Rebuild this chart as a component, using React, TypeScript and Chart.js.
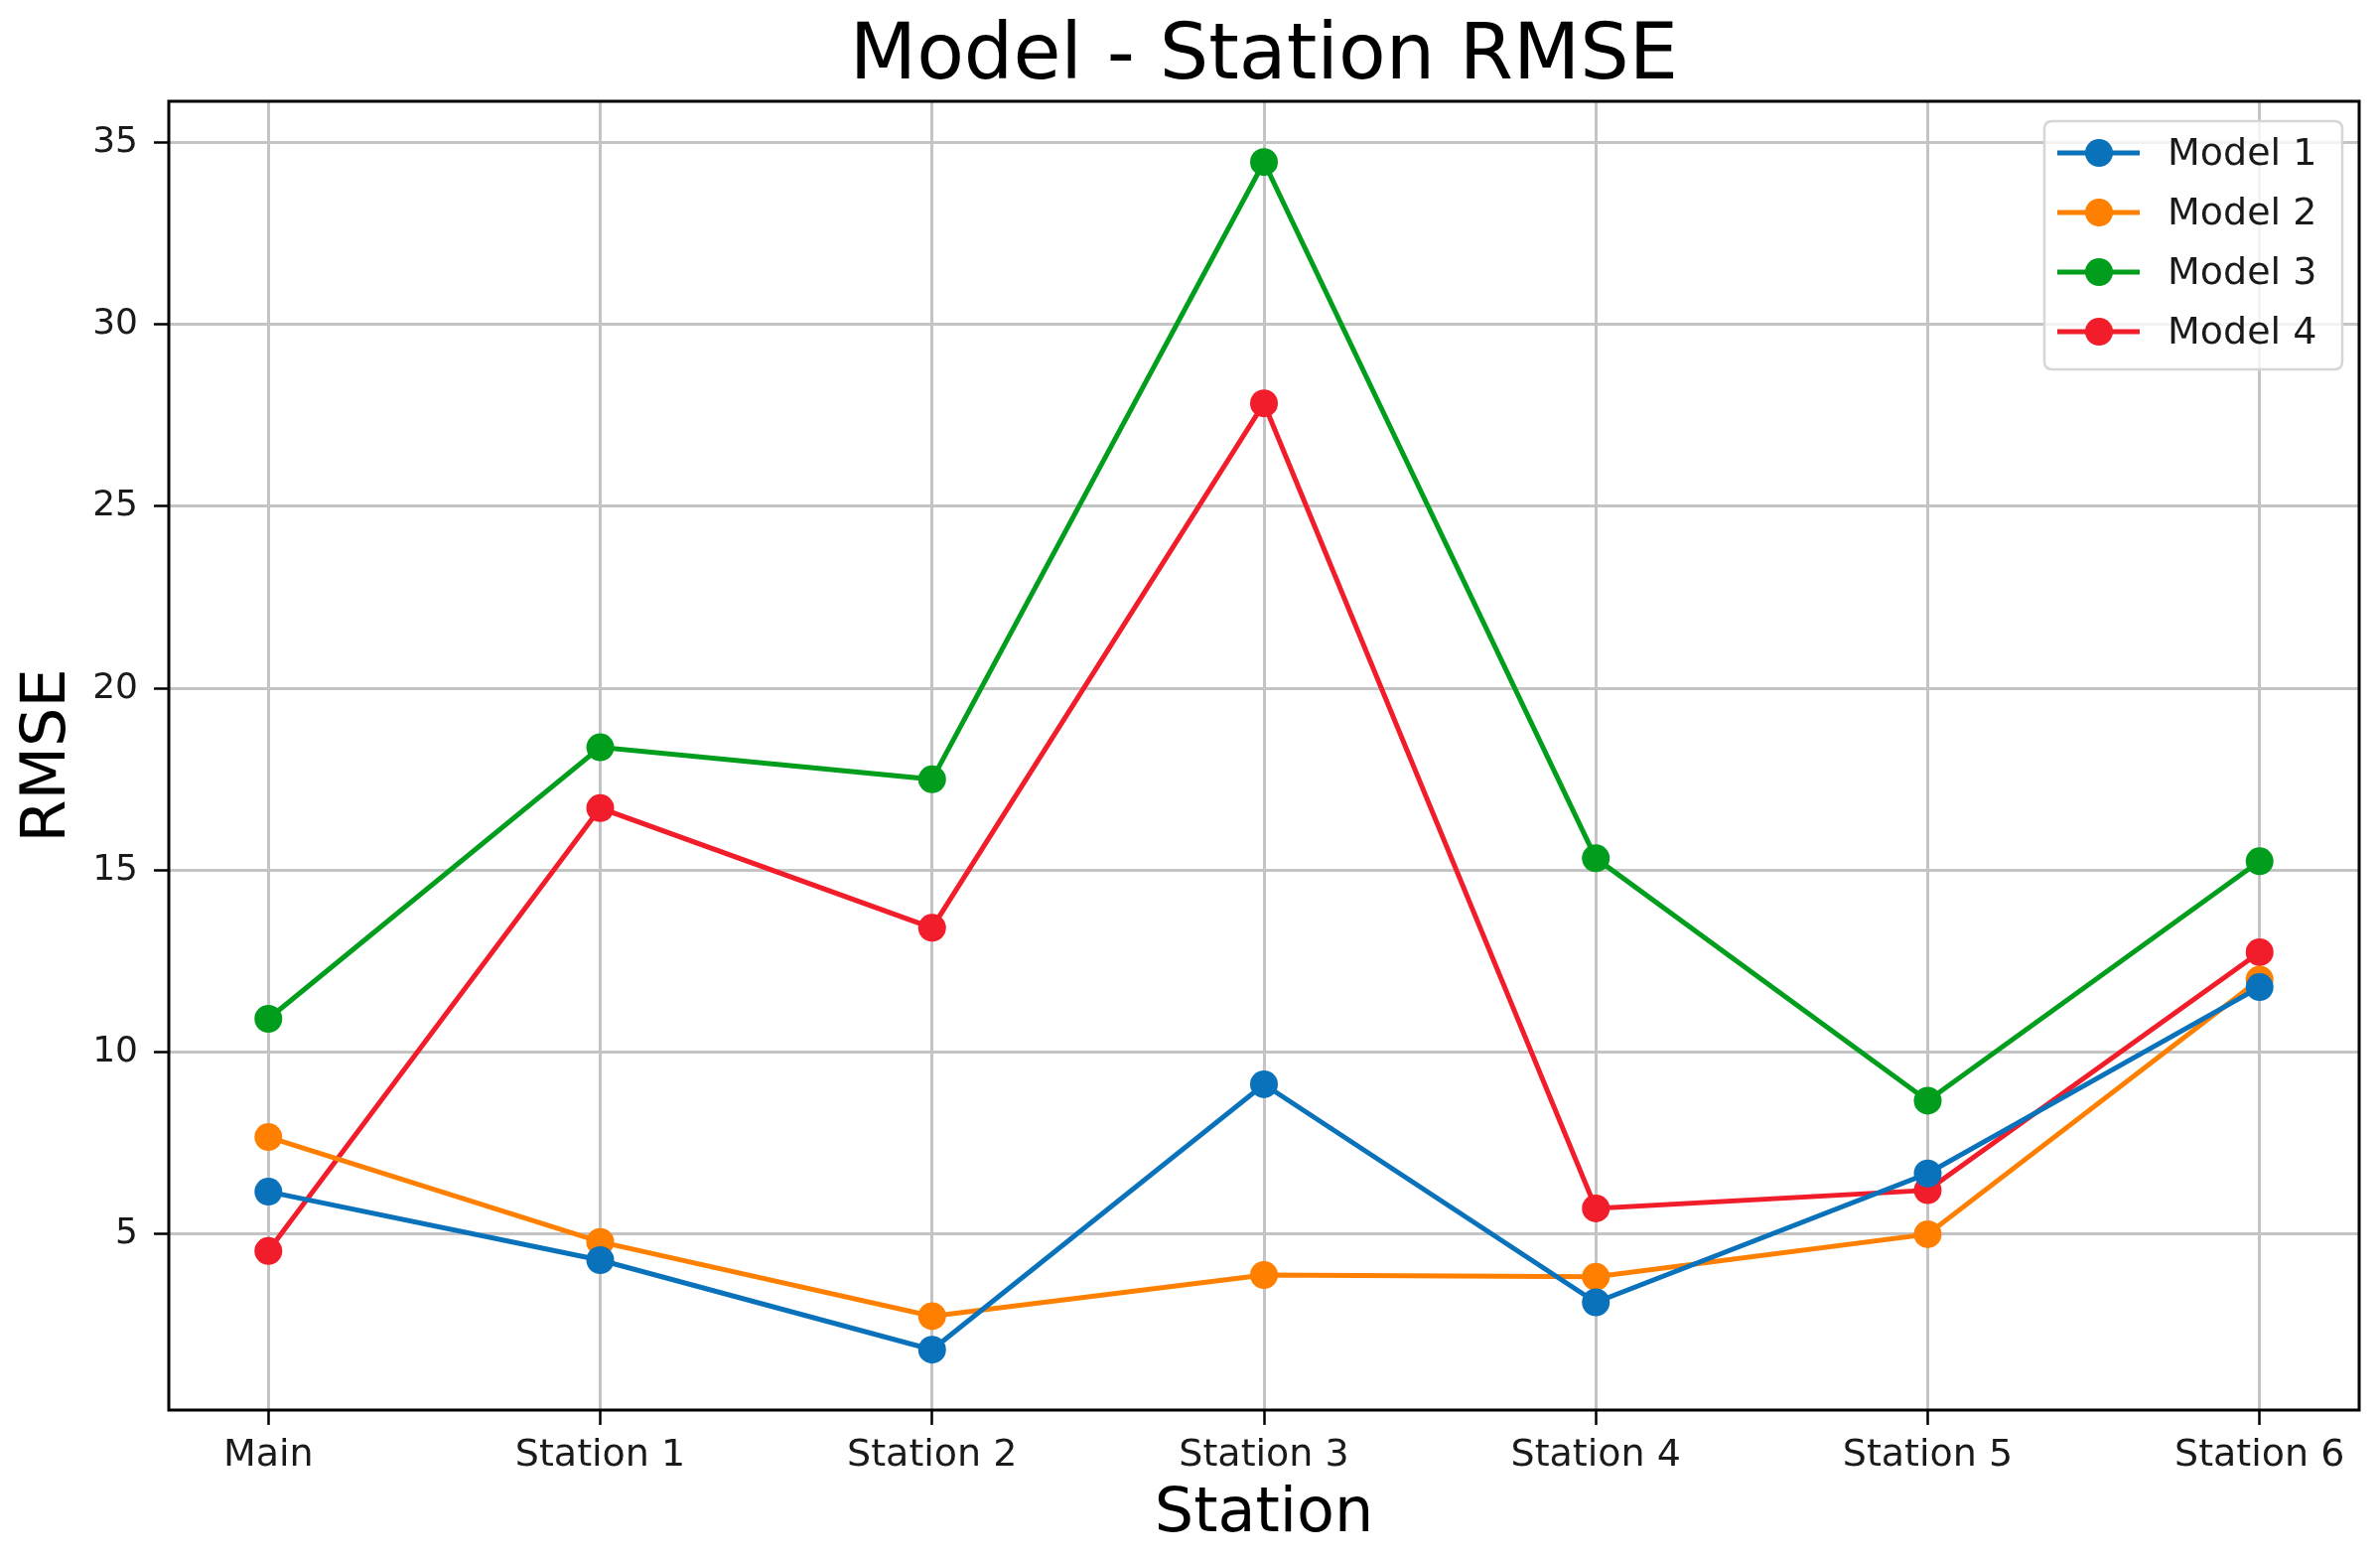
import React, { useEffect, useRef } from "react";
import { Chart, registerables } from "chart.js";

Chart.register(...registerables);

const stations = ["Main", "Station 1", "Station 2", "Station 3", "Station 4", "Station 5", "Station 6"];
const model1 = [6.17, 4.29, 1.83, 9.12, 3.13, 6.67, 11.79];
const model2 = [7.67, 4.79, 2.75, 3.88, 3.83, 5.0, 12.0];
const model3 = [10.92, 18.38, 17.5, 34.46, 15.33, 8.67, 15.25];
const model4 = [4.54, 16.71, 13.42, 27.83, 5.71, 6.21, 12.75];
const seriesNames = ["Model 1", "Model 2", "Model 3", "Model 4"];
const seriesColors = ["#0a72bb", "#ff8000", "#009e1c", "#f21d2a"];
const yTicks = [5, 10, 15, 20, 25, 30, 35];
const chartTitle = "Model - Station RMSE";

const FONT = "'DejaVu Sans', sans-serif";

const framePlugin = {
  id: "frame",
  afterDatasetsDraw(chart: any) {
    const { ctx, chartArea } = chart;
    ctx.save();
    ctx.strokeStyle = "#000";
    ctx.lineWidth = 3;
    ctx.strokeRect(chartArea.left, chartArea.top, chartArea.right - chartArea.left, chartArea.bottom - chartArea.top);
    ctx.restore();
  },
  afterDraw(chart: any) {
    const { ctx, chartArea } = chart;
    // title centred over the plot area
    ctx.save();
    ctx.font = `78px ${FONT}`;
    ctx.fillStyle = "#000";
    ctx.textAlign = "center";
    ctx.textBaseline = "alphabetic";
    ctx.fillText(chartTitle, (chartArea.left + chartArea.right) / 2, 79);
    ctx.restore();

    const ds = chart.data.datasets;
    const boxRight = chartArea.right - 17;
    const boxTop = chartArea.top + 20;
    const boxW = 300;
    const rowH = 60;
    const boxH = 250;
    const boxLeft = boxRight - boxW;
    ctx.save();
    ctx.beginPath();
    const r = 8;
    ctx.moveTo(boxLeft + r, boxTop);
    ctx.lineTo(boxRight - r, boxTop);
    ctx.quadraticCurveTo(boxRight, boxTop, boxRight, boxTop + r);
    ctx.lineTo(boxRight, boxTop + boxH - r);
    ctx.quadraticCurveTo(boxRight, boxTop + boxH, boxRight - r, boxTop + boxH);
    ctx.lineTo(boxLeft + r, boxTop + boxH);
    ctx.quadraticCurveTo(boxLeft, boxTop + boxH, boxLeft, boxTop + boxH - r);
    ctx.lineTo(boxLeft, boxTop + r);
    ctx.quadraticCurveTo(boxLeft, boxTop, boxLeft + r, boxTop);
    ctx.closePath();
    ctx.fillStyle = "rgba(255,255,255,0.8)";
    ctx.fill();
    ctx.strokeStyle = "#d6d6d6";
    ctx.lineWidth = 2.5;
    ctx.stroke();
    ctx.font = `38px ${FONT}`;
    ctx.textBaseline = "middle";
    ctx.textAlign = "left";
    ds.forEach((d: any, i: number) => {
      const y = boxTop + 32 + i * rowH;
      ctx.strokeStyle = d.borderColor;
      ctx.lineWidth = 5;
      ctx.beginPath();
      ctx.moveTo(boxLeft + 13, y);
      ctx.lineTo(boxLeft + 96, y);
      ctx.stroke();
      ctx.fillStyle = d.borderColor;
      ctx.beginPath();
      ctx.arc(boxLeft + 55, y, 14, 0, Math.PI * 2);
      ctx.fill();
      ctx.fillStyle = "#1a1a1a";
      ctx.fillText(d.label, boxLeft + 124, y + 2);
    });
    ctx.restore();
  },
};

export default function App() {
  const ref = useRef<HTMLCanvasElement | null>(null);
  useEffect(() => {
    document.body.style.margin = "0";
    const all = [model1, model2, model3, model4];
    const datasets = all.map((vals, i) => ({
      label: seriesNames[i],
      data: vals.map((v, j) => ({ x: j, y: v })),
      borderColor: seriesColors[i],
      backgroundColor: seriesColors[i],
      borderWidth: 5,
      pointRadius: 14,
      pointHoverRadius: 14,
      pointBorderWidth: 0,
      pointBackgroundColor: seriesColors[i],
      tension: 0,
      fill: false,
    }));
    const chart = new Chart(ref.current!, {
      type: "line",
      data: { datasets },
      plugins: [framePlugin],
      options: {
        animation: false,
        responsive: false,
        devicePixelRatio: 1,
        layout: { padding: { left: 0, right: 21, top: 102, bottom: 0 } },
        plugins: {
          legend: { display: false },
          tooltip: { enabled: false },
          title: { display: false },
        },
        scales: {
          x: {
            type: "linear",
            min: -0.3,
            max: 6.3,
            afterBuildTicks: (scale: any) => {
              scale.ticks = stations.map((_, i) => ({ value: i }));
            },
            afterFit: (scale: any) => {
              scale.height = 151;
            },
            ticks: {
              callback: (v: any) => stations[Math.round(Number(v))],
              color: "#1a1a1a",
              font: { family: FONT, size: 38 },
              padding: 8,
              maxRotation: 0,
              autoSkip: false,
            },
            grid: {
              color: "#c4c4c4",
              lineWidth: 3,
              tickColor: "#000",
              tickLength: 15,
              tickWidth: 2.5,
            },
            border: { display: false },
            title: {
              display: true,
              text: "Station",
              color: "#000",
              font: { family: FONT, size: 62, lineHeight: 1 },
              padding: { top: 0, bottom: 14 },
            },
          },
          y: {
            type: "linear",
            min: 0.17,
            max: 36.13,
            afterBuildTicks: (scale: any) => {
              scale.ticks = yTicks.map((v) => ({ value: v }));
            },
            afterFit: (scale: any) => {
              scale.width = 170;
            },
            ticks: {
              color: "#1a1a1a",
              font: { family: FONT, size: 36 },
              padding: 16,
            },
            grid: {
              color: "#c4c4c4",
              lineWidth: 3,
              tickColor: "#000",
              tickLength: 15,
              tickWidth: 2.5,
            },
            border: { display: false },
            title: {
              display: true,
              text: "RMSE",
              color: "#000",
              font: { family: FONT, size: 62, lineHeight: 1 },
              padding: { top: 18, bottom: 0 },
            },
          },
        },
      },
    } as any);
    return () => chart.destroy();
  }, []);
  return (
    <div style={{ position: "fixed", left: 0, top: 0, width: 2397, height: 1571, background: "#fff" }}>
      <canvas ref={ref} width={2397} height={1571} style={{ width: 2397, height: 1571 }} />
    </div>
  );
}
